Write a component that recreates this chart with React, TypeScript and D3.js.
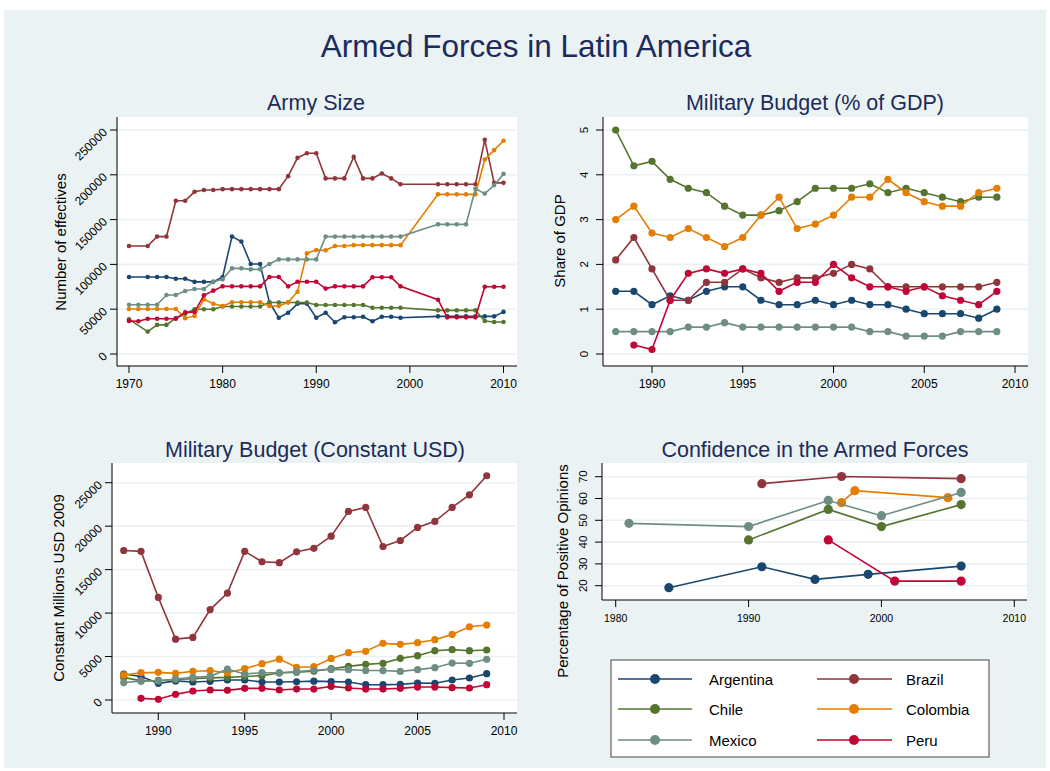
import React from "react";
import * as d3 from "d3";

const countries = ["Argentina", "Brazil", "Chile", "Colombia", "Mexico", "Peru"];
const colors = ["#1A476F", "#90353B", "#55752F", "#E37E00", "#6E8E84", "#C10534"];

// Army size
const armyYears = [1970,1971,1972,1973,1974,1975,1976,1977,1978,1979,1980,1981,1982,1983,1984,1985,1986,1987,1988,1989,1990,1991,1992,1993,1994,1995,1996,1997,1998,1999,2003,2004,2005,2006,2007,2008,2009,2010];
const armyArgentina = [86000,null,86000,86000,86000,84000,84000,80500,80500,80500,86000,131000,125500,100500,100500,57500,40500,46000,56000,56000,40500,46000,35500,41000,41000,41500,36500,41500,41500,40500,42000,42000,42000,42000,42000,42000,42000,47000];
const armyBrazil = [120500,null,120500,131000,131000,171000,171000,181000,183000,183000,184000,184000,184000,184000,184000,184000,184000,198500,219000,224000,224000,196000,196000,196000,220000,196000,196000,201500,196000,189500,189500,189500,189500,189500,189500,239000,191000,191000];
const armyChile = [38700,null,25000,32500,32500,40000,45000,50000,50000,50000,53000,53000,53000,53000,53000,57500,57500,57500,57500,57500,54700,54700,54700,54700,54700,54700,51700,51700,51700,51700,48700,48700,48700,48700,48700,36800,35700,35700];
const armyColombia = [50200,50200,50200,50200,50200,50200,40000,42500,61000,56000,53500,57700,57700,57700,57700,53500,53500,57700,69500,112500,116000,115700,120500,120500,121500,121500,121500,121500,121500,121500,178200,178200,178200,178200,178200,217000,227500,238000];
const armyMexico = [55000,55000,55000,55000,65800,65800,70300,72500,72500,80700,83300,95600,95600,94500,94500,100400,105600,105600,105600,105600,105600,131000,131000,131000,131000,131000,131000,131000,131000,131000,144700,144700,144700,144700,184500,179000,188500,201000];
const armyPeru = [36800,36500,39400,39400,39400,39400,46500,47000,65500,70700,75500,75500,75500,75500,75500,86000,86000,75500,80700,80700,80700,73000,75500,75500,75500,75500,85600,85600,85600,75500,60600,40900,40900,40900,40900,75100,75100,75100];
const armyTicks = [0, 50000, 100000, 150000, 200000, 250000];
const armyYearTicks = [1970, 1980, 1990, 2000, 2010];

// Military budget % GDP
const gdpYears = [1988,1989,1990,1991,1992,1993,1994,1995,1996,1997,1998,1999,2000,2001,2002,2003,2004,2005,2006,2007,2008,2009];
const gdpArgentina = [1.4,1.4,1.1,1.3,1.2,1.4,1.5,1.5,1.2,1.1,1.1,1.2,1.1,1.2,1.1,1.1,1.0,0.9,0.9,0.9,0.8,1.0];
const gdpBrazil = [2.1,2.6,1.9,1.2,1.2,1.6,1.6,1.9,1.7,1.6,1.7,1.7,1.8,2.0,1.9,1.5,1.5,1.5,1.5,1.5,1.5,1.6];
const gdpChile = [5.0,4.2,4.3,3.9,3.7,3.6,3.3,3.1,3.1,3.2,3.4,3.7,3.7,3.7,3.8,3.6,3.7,3.6,3.5,3.4,3.5,3.5];
const gdpColombia = [3.0,3.3,2.7,2.6,2.8,2.6,2.4,2.6,3.1,3.5,2.8,2.9,3.1,3.5,3.5,3.9,3.6,3.4,3.3,3.3,3.6,3.7];
const gdpMexico = [0.5,0.5,0.5,0.5,0.6,0.6,0.7,0.6,0.6,0.6,0.6,0.6,0.6,0.6,0.5,0.5,0.4,0.4,0.4,0.5,0.5,0.5];
const gdpPeru = [null,0.2,0.1,1.2,1.8,1.9,1.8,1.9,1.8,1.4,1.6,1.6,2.0,1.7,1.5,1.5,1.4,1.5,1.3,1.2,1.1,1.4];
const gdpTicks = [0, 1, 2, 3, 4, 5];
const gdpYearTicks = [1990, 1995, 2000, 2005, 2010];

// Military budget constant USD
const usdYears = gdpYears;
const usdArgentina = [2990,2700,1920,2200,2070,2150,2300,2300,2070,2070,2100,2170,2110,2070,1760,1760,1800,1950,1920,2300,2530,3030];
const usdBrazil = [17200,17100,11800,7000,7200,10400,12300,17100,15900,15800,17050,17450,18850,21700,22150,17650,18350,19850,20550,22150,23600,25800];
const usdChile = [2600,2200,2250,2350,2450,2550,2600,2700,2800,3100,3200,3300,3600,3870,4100,4220,4790,5100,5670,5790,5670,5750];
const usdColombia = [2880,3140,3180,3060,3300,3370,3140,3600,4180,4700,3760,3830,4780,5440,5600,6520,6400,6590,6940,7550,8430,8630];
const usdMexico = [2000,2190,2190,2420,2600,2720,3550,2990,3140,3140,3260,3420,3520,3490,3390,3390,3290,3490,3720,4250,4220,4680];
const usdPeru = [null,190,80,650,1030,1150,1110,1340,1340,1150,1260,1260,1570,1380,1260,1260,1340,1490,1490,1420,1380,1760];
const usdTicks = [0, 5000, 10000, 15000, 20000, 25000];
const usdYearTicks = [1990, 1995, 2000, 2005, 2010];

// Confidence in the armed forces
const confArgentinaYears = [1984, 1991, 1995, 1999, 2006];
const confArgentina = [19.1, 28.7, 22.9, 25.2, 29.0];
const confBrazilYears = [1991, 1997, 2006];
const confBrazil = [66.8, 70.1, 69.1];
const confChileYears = [1990, 1996, 2000, 2006];
const confChile = [41.0, 55.0, 47.1, 57.2];
const confColombiaYears = [1997, 1998, 2005];
const confColombia = [58.1, 63.6, 60.4];
const confMexicoYears = [1981, 1990, 1996, 2000, 2006];
const confMexico = [48.6, 47.1, 59.1, 52.1, 62.8];
const confPeruYears = [1996, 2001, 2006];
const confPeru = [41.0, 22.1, 22.1];
const confTicks = [20, 30, 40, 50, 60, 70];
const confYearTicks = [1980, 1990, 2000, 2010];

const BG = "#EAF2F3";
const TITLE = "#1C2B5A";
const FONT = "'Liberation Sans', Arial, sans-serif";

type Series = { years: number[]; values: (number | null)[] };

function pts(s: Series) {
  const out: [number, number][] = [];
  s.years.forEach((y, i) => {
    const v = s.values[i];
    if (v !== null && v !== undefined) out.push([y, v]);
  });
  return out;
}

type PanelProps = {
  title: string;
  titleX: number;
  titleY: number;
  box: [number, number, number, number];
  x: d3.ScaleLinear<number, number>;
  y: d3.ScaleLinear<number, number>;
  xTicks: number[];
  yTicks: number[];
  series: Series[];
  r: number;
  yTickStyle: "diag" | "vert";
  yLabel: string;
  yLabelX: number;
  yLabelY: number;
  xTickFont: number;
};

function Panel(p: PanelProps) {
  const [x0, y0, x1, y1] = p.box;
  const line = d3.line<[number, number]>().x((d) => p.x(d[0])).y((d) => p.y(d[1]));
  return (
    <g>
      <text x={p.titleX} y={p.titleY} textAnchor="middle" fontSize={21.5} fill={TITLE} fontFamily={FONT}>
        {p.title}
      </text>
      <rect x={x0} y={y0} width={x1 - x0} height={y1 - y0} fill="#fff" />
      {p.yTicks.map((t) => (
        <line key={"g" + t} x1={x0} x2={x1} y1={p.y(t)} y2={p.y(t)} stroke={BG} strokeWidth={1.6} />
      ))}
      <line x1={x0} x2={x0} y1={y0} y2={y1} stroke="#000" strokeWidth={1} />
      <line x1={x0} x2={x1} y1={y1} y2={y1} stroke="#000" strokeWidth={1} />
      {p.yTicks.map((t) => (
        <line key={"yt" + t} x1={x0 - 7} x2={x0} y1={p.y(t)} y2={p.y(t)} stroke="#000" strokeWidth={1} />
      ))}
      {p.xTicks.map((t) => (
        <line key={"xt" + t} x1={p.x(t)} x2={p.x(t)} y1={y1} y2={y1 + 7} stroke="#000" strokeWidth={1} />
      ))}
      {p.xTicks.map((t) => (
        <text key={"xl" + t} x={p.x(t)} y={y1 + 22} textAnchor="middle" fontSize={p.xTickFont} fontFamily={FONT} fill="#000">
          {t}
        </text>
      ))}
      {p.yTicks.map((t) =>
        p.yTickStyle === "diag" ? (
          <text
            key={"yl" + t}
            transform={`translate(${x0 - 9},${p.y(t) + 3}) rotate(-45)`}
            textAnchor="end"
            fontSize={12}
            fontFamily={FONT}
            fill="#000"
          >
            {t}
          </text>
        ) : (
          <text
            key={"yl" + t}
            transform={`translate(${x0 - 15},${p.y(t)}) rotate(-90)`}
            textAnchor="middle"
            fontSize={11.5}
            fontFamily={FONT}
            fill="#000"
          >
            {t}
          </text>
        )
      )}
      <text
        transform={`translate(${p.yLabelX},${p.yLabelY}) rotate(-90)`}
        textAnchor="middle"
        fontSize={15}
        fontFamily={FONT}
        fill="#000"
      >
        {p.yLabel}
      </text>
      {p.series.map((s, i) => {
        const d = pts(s);
        return (
          <g key={"s" + i}>
            <path d={line(d) || ""} fill="none" stroke={colors[i]} strokeWidth={1.6} />
            {d.map((q, j) => (
              <circle key={j} cx={p.x(q[0])} cy={p.y(q[1])} r={p.r} fill={colors[i]} />
            ))}
          </g>
        );
      })}
    </g>
  );
}

export default function App() {
  const armyX = d3.scaleLinear().domain([1970, 2010]).range([129, 503.5]);
  const armyY = d3.scaleLinear().domain([0, 250000]).range([354, 130]);
  const gdpX = d3.scaleLinear().domain([1990, 2010]).range([652, 1015]);
  const gdpY = d3.scaleLinear().domain([0, 5]).range([354, 130]);
  const usdX = d3.scaleLinear().domain([1990, 2010]).range([158.3, 504]);
  const usdY = d3.scaleLinear().domain([0, 25000]).range([700, 482.7]);
  const confX = d3.scaleLinear().domain([1980, 2010]).range([615.7, 1014.3]);
  const confY = d3.scaleLinear().domain([20, 70]).range([585.7, 476.7]);

  const armySeries: Series[] = [armyArgentina, armyBrazil, armyChile, armyColombia, armyMexico, armyPeru].map((v) => ({ years: armyYears, values: v }));
  const gdpSeries: Series[] = [gdpArgentina, gdpBrazil, gdpChile, gdpColombia, gdpMexico, gdpPeru].map((v) => ({ years: gdpYears, values: v }));
  const usdSeries: Series[] = [usdArgentina, usdBrazil, usdChile, usdColombia, usdMexico, usdPeru].map((v) => ({ years: usdYears, values: v }));
  const confSeries: Series[] = [
    { years: confArgentinaYears, values: confArgentina },
    { years: confBrazilYears, values: confBrazil },
    { years: confChileYears, values: confChile },
    { years: confColombiaYears, values: confColombia },
    { years: confMexicoYears, values: confMexico },
    { years: confPeruYears, values: confPeru },
  ];

  const legendRows = [679, 709, 740];

  return (
    <svg width={1050} height={771} style={{ position: "absolute", left: 0, top: 0 }}>
      <rect x={0} y={0} width={1050} height={771} fill="#fff" />
      <rect x={4} y={10} width={1042} height={758} fill={BG} />
      <text x={536} y={57} textAnchor="middle" fontSize={31.5} fill={TITLE} fontFamily={FONT}>
        Armed Forces in Latin America
      </text>
      <Panel title="Army Size" titleX={316} titleY={110} box={[117, 117, 517, 366]} x={armyX} y={armyY}
        xTicks={armyYearTicks} yTicks={armyTicks} series={armySeries} r={2.3} yTickStyle="diag"
        yLabel="Number of effectives" yLabelX={66} yLabelY={242} xTickFont={12} />
      <Panel title="Military Budget (% of GDP)" titleX={815} titleY={110} box={[603, 117, 1028, 366]} x={gdpX} y={gdpY}
        xTicks={gdpYearTicks} yTicks={gdpTicks} series={gdpSeries} r={3.6} yTickStyle="vert"
        yLabel="Share of GDP" yLabelX={565} yLabelY={241} xTickFont={12} />
      <Panel title="Military Budget (Constant USD)" titleX={315} titleY={457} box={[112, 463, 517, 713]} x={usdX} y={usdY}
        xTicks={usdYearTicks} yTicks={usdTicks} series={usdSeries} r={3.6} yTickStyle="diag"
        yLabel="Constant Millions USD 2009" yLabelX={64} yLabelY={588} xTickFont={12} />
      <Panel title="Confidence in the Armed Forces" titleX={815} titleY={457} box={[602, 463, 1027, 600]} x={confX} y={confY}
        xTicks={confYearTicks} yTicks={confTicks} series={confSeries} r={4.6} yTickStyle="vert"
        yLabel="Percentage of Positive Opinions" yLabelX={568} yLabelY={571} xTickFont={10.5} />
      <rect x={611} y={660} width={378} height={97} fill="#fff" stroke="#444" strokeWidth={1} />
      {countries.map((c, i) => {
        const col = i % 2;
        const row = Math.floor(i / 2);
        const lx0 = col === 0 ? 618 : 817;
        const lx1 = col === 0 ? 692 : 892;
        const mx = col === 0 ? 655 : 854;
        const tx = col === 0 ? 709 : 906;
        const yy = legendRows[row];
        return (
          <g key={c}>
            <line x1={lx0} x2={lx1} y1={yy} y2={yy} stroke={colors[i]} strokeWidth={1.6} />
            <circle cx={mx} cy={yy} r={5} fill={colors[i]} />
            <text x={tx} y={yy + 5.5} fontSize={15} fontFamily={FONT} fill="#000">
              {c}
            </text>
          </g>
        );
      })}
    </svg>
  );
}
